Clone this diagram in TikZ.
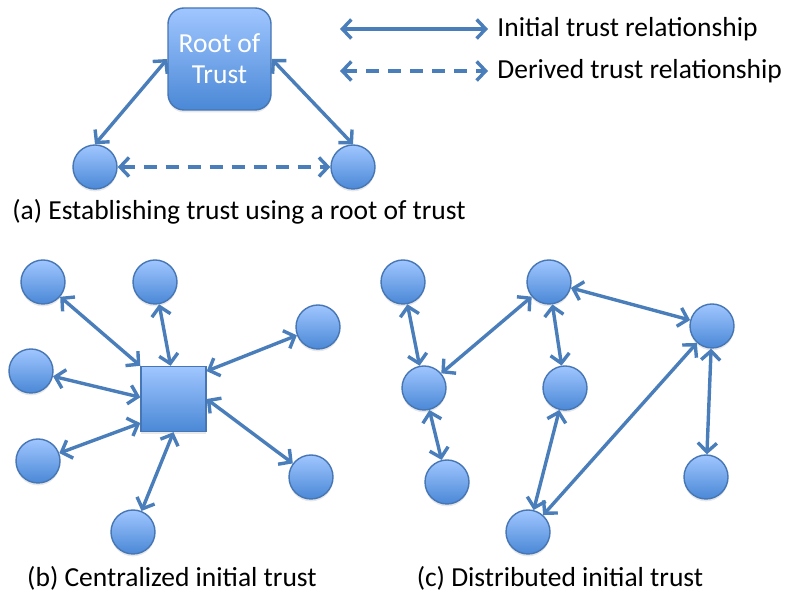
\documentclass[tikz,border=0pt]{standalone}
\usepackage{fontspec}
\setmainfont{Carlito}
\usetikzlibrary{arrows.meta,shadows}
\definecolor{nodetop}{HTML}{A0C6FF}
\definecolor{nodebottom}{HTML}{4A88D6}
\definecolor{nodeedge}{HTML}{4676B4}
\definecolor{link}{HTML}{4A7EBB}
\tikzstyle{peer} = [circle, draw=nodeedge, line width=0.7pt,
                    top color=nodetop, bottom color=nodebottom,
                    minimum size=22pt, inner sep=0pt,
                    drop shadow={opacity=0.18, shadow xshift=0pt, shadow yshift=-1.2pt}]
\tikzstyle{hub} = [peer, rectangle, minimum size=32.5pt]
\tikzstyle{root} = [peer, rectangle, rounded corners=8pt,
                    minimum width=51.5pt, minimum height=51pt,
                    text=white, align=center]
\tikzstyle{trust} = [draw=link, line width=1.7pt,
                     {Straight Barb[length=4.5pt,width=9.5pt]}-{Straight Barb[length=4.5pt,width=9.5pt]}]
\tikzstyle{derived} = [trust, dash pattern=on 6.5pt off 4.5pt]
\tikzstyle{caption} = [inner sep=0pt]

\begin{document}
\begin{tikzpicture}[x=0.5pt, y=-0.5pt, font=\fontsize{13.75}{15.5}\selectfont]
  \useasboundingbox (0,0) rectangle (787,597);

  % (a) root of trust
  \node[root] (rot) at (219.5,59) {Root of\\Trust};
  \node[peer] (left) at (95,167) {};
  \node[peer] (right) at (353,167) {};
  \draw[trust] (rot.west) -- (left.north);
  \draw[trust] (rot.east) -- (right.north);
  \draw[derived] (left) -- (right);
  \node[caption] (capa) at (239,212) {(a) Establishing trust using a root of trust};

  % legend
  \coordinate (l1a) at (340,29);
  \coordinate (l1b) at (488,29);
  \coordinate (l2a) at (340,71);
  \coordinate (l2b) at (488,71);
  \draw[trust] (l1a) -- (l1b);
  \draw[derived] (l2a) -- (l2b);
  \node[caption, anchor=west] (leg1) at (497,29) {Initial trust relationship};
  \node[caption, anchor=west] (leg2) at (497,71) {Derived trust relationship};

  % (b) centralized
  \node[hub] (hub) at (173.5,399) {};
  \node[peer] (b1) at (43,282) {};
  \node[peer] (b2) at (155,282) {};
  \node[peer] (b3) at (318,327) {};
  \node[peer] (b4) at (31,371) {};
  \node[peer] (b5) at (38,461) {};
  \node[peer] (b6) at (311,477) {};
  \node[peer] (b7) at (133,532) {};
  \draw[trust] (b1) -- (hub.north west);
  \draw[trust] (b2) -- (hub.95);
  \draw[trust] (b3) -- (hub.40);
  \draw[trust] (b4) -- (hub.177);
  \draw[trust] (b5) -- (hub.216);
  \draw[trust] (b6) -- (hub.east);
  \draw[trust] (b7) -- (hub.south);
  \node[caption] (capb) at (172,578) {(b) Centralized initial trust};

  % (c) distributed
  \node[peer] (c1) at (403,282) {};
  \node[peer] (c2) at (549,282) {};
  \node[peer] (c3) at (712,326) {};
  \node[peer] (c4) at (424,388) {};
  \node[peer] (c5) at (565,388) {};
  \node[peer] (c6) at (447,482) {};
  \node[peer] (c7) at (706,477) {};
  \node[peer] (c8) at (528,532) {};
  \draw[trust] (c1) -- (c4);
  \draw[trust] (c4) -- (c2);
  \draw[trust] (c4) -- (c6);
  \draw[trust] (c2) -- (c5);
  \draw[trust] (c2) -- (c3);
  \draw[trust] (c5) -- (c8);
  \draw[trust] (c3) -- (c8);
  \draw[trust] (c3) -- (c7);
  \node[caption] (capc) at (560,578) {(c) Distributed initial trust};
\end{tikzpicture}
\end{document}
